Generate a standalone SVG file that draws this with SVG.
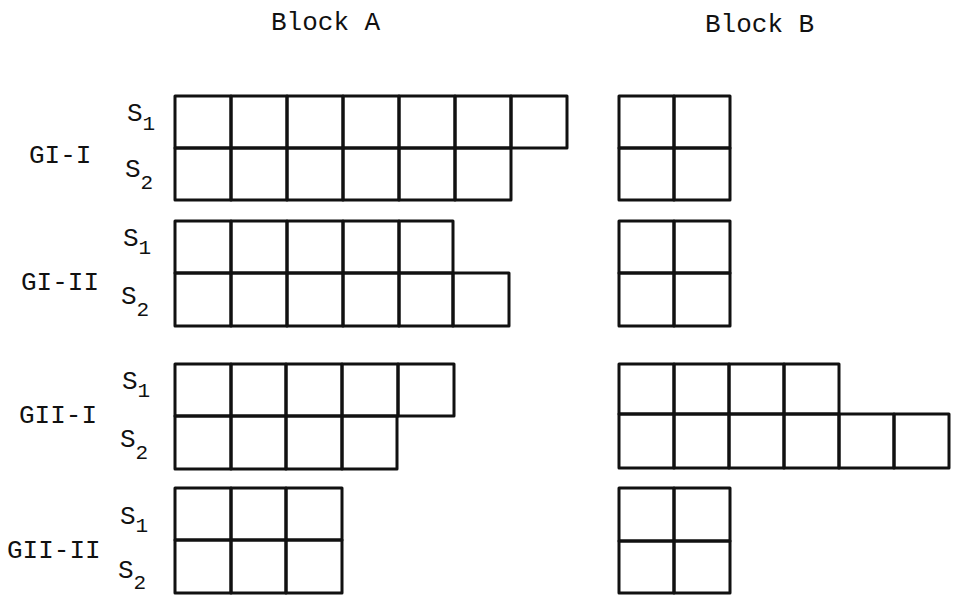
<svg xmlns="http://www.w3.org/2000/svg" width="956" height="607" viewBox="0 0 956 607">
<style>
.c{fill:none;stroke:#111;stroke-width:3;stroke-linejoin:round}
.t{font-family:"Liberation Mono","DejaVu Sans Mono",monospace;font-size:26px;fill:#111}
.sub{font-size:21px}
</style>
<rect width="956" height="607" fill="#fff"/>
<g id="titles">
<text class="t" x="271" y="30">Block A</text>
<text class="t" x="705" y="32">Block B</text>
</g>
<g id="labels">
<text class="t" x="29" y="163">GI-I</text>
<text class="t" x="21" y="290">GI-II</text>
<text class="t" x="19" y="423">GII-I</text>
<text class="t" x="7" y="558">GII-II</text>
<text class="t" x="127" y="121">S<tspan class="sub" dy="9">1</tspan></text>
<text class="t" x="125" y="177">S<tspan class="sub" dy="12">2</tspan></text>
<text class="t" x="123" y="246">S<tspan class="sub" dy="8">1</tspan></text>
<text class="t" x="121" y="304">S<tspan class="sub" dy="12">2</tspan></text>
<text class="t" x="122" y="389">S<tspan class="sub" dy="8">1</tspan></text>
<text class="t" x="120" y="447">S<tspan class="sub" dy="12">2</tspan></text>
<text class="t" x="120" y="524">S<tspan class="sub" dy="8">1</tspan></text>
<text class="t" x="118" y="578">S<tspan class="sub" dy="11">2</tspan></text>
</g>
<g id="gi-i-a">
<rect class="c" x="175" y="96" width="56" height="52"/><rect class="c" x="231" y="96" width="56" height="52"/><rect class="c" x="287" y="96" width="56" height="52"/><rect class="c" x="343" y="96" width="56" height="52"/><rect class="c" x="399" y="96" width="56" height="52"/><rect class="c" x="455" y="96" width="56" height="52"/><rect class="c" x="511" y="96" width="56" height="52"/>
<rect class="c" x="175" y="148" width="56" height="52"/><rect class="c" x="231" y="148" width="56" height="52"/><rect class="c" x="287" y="148" width="56" height="52"/><rect class="c" x="343" y="148" width="56" height="52"/><rect class="c" x="399" y="148" width="56" height="52"/><rect class="c" x="455" y="148" width="56" height="52"/>
</g>
<g id="gi-i-b">
<rect class="c" x="619" y="96" width="55" height="52"/><rect class="c" x="674" y="96" width="56" height="52"/>
<rect class="c" x="619" y="148" width="55" height="52"/><rect class="c" x="674" y="148" width="56" height="52"/>
</g>
<g id="gi-ii-a">
<rect class="c" x="175" y="221" width="56" height="52"/><rect class="c" x="231" y="221" width="56" height="52"/><rect class="c" x="287" y="221" width="56" height="52"/><rect class="c" x="343" y="221" width="56" height="52"/><rect class="c" x="399" y="221" width="54" height="52"/>
<rect class="c" x="175" y="273" width="56" height="53"/><rect class="c" x="231" y="273" width="56" height="53"/><rect class="c" x="287" y="273" width="56" height="53"/><rect class="c" x="343" y="273" width="56" height="53"/><rect class="c" x="399" y="273" width="54" height="53"/><rect class="c" x="453" y="273" width="56" height="53"/>
</g>
<g id="gi-ii-b">
<rect class="c" x="619" y="221" width="55" height="52"/><rect class="c" x="674" y="221" width="56" height="52"/>
<rect class="c" x="619" y="273" width="55" height="53"/><rect class="c" x="674" y="273" width="56" height="53"/>
</g>
<g id="gii-i-a">
<rect class="c" x="175" y="364" width="56" height="52"/><rect class="c" x="231" y="364" width="55" height="52"/><rect class="c" x="286" y="364" width="56" height="52"/><rect class="c" x="342" y="364" width="56" height="52"/><rect class="c" x="398" y="364" width="56" height="52"/>
<rect class="c" x="175" y="416" width="56" height="53"/><rect class="c" x="231" y="416" width="55" height="53"/><rect class="c" x="286" y="416" width="56" height="53"/><rect class="c" x="342" y="416" width="55" height="53"/>
</g>
<g id="gii-i-b">
<rect class="c" x="619" y="364" width="55" height="50"/><rect class="c" x="674" y="364" width="55" height="50"/><rect class="c" x="729" y="364" width="55" height="50"/><rect class="c" x="784" y="364" width="55" height="50"/>
<rect class="c" x="619" y="414" width="55" height="54"/><rect class="c" x="674" y="414" width="55" height="54"/><rect class="c" x="729" y="414" width="55" height="54"/><rect class="c" x="784" y="414" width="55" height="54"/><rect class="c" x="839" y="414" width="55" height="54"/><rect class="c" x="894" y="414" width="55" height="54"/>
</g>
<g id="gii-ii-a">
<rect class="c" x="175" y="488" width="56" height="52"/><rect class="c" x="231" y="488" width="55" height="52"/><rect class="c" x="286" y="488" width="56" height="52"/>
<rect class="c" x="175" y="540" width="56" height="53"/><rect class="c" x="231" y="540" width="55" height="53"/><rect class="c" x="286" y="540" width="56" height="53"/>
</g>
<g id="gii-ii-b">
<rect class="c" x="619" y="488" width="55" height="53"/><rect class="c" x="674" y="488" width="56" height="53"/>
<rect class="c" x="619" y="541" width="55" height="52"/><rect class="c" x="674" y="541" width="56" height="52"/>
</g>
<g id="connectors"/>
</svg>
